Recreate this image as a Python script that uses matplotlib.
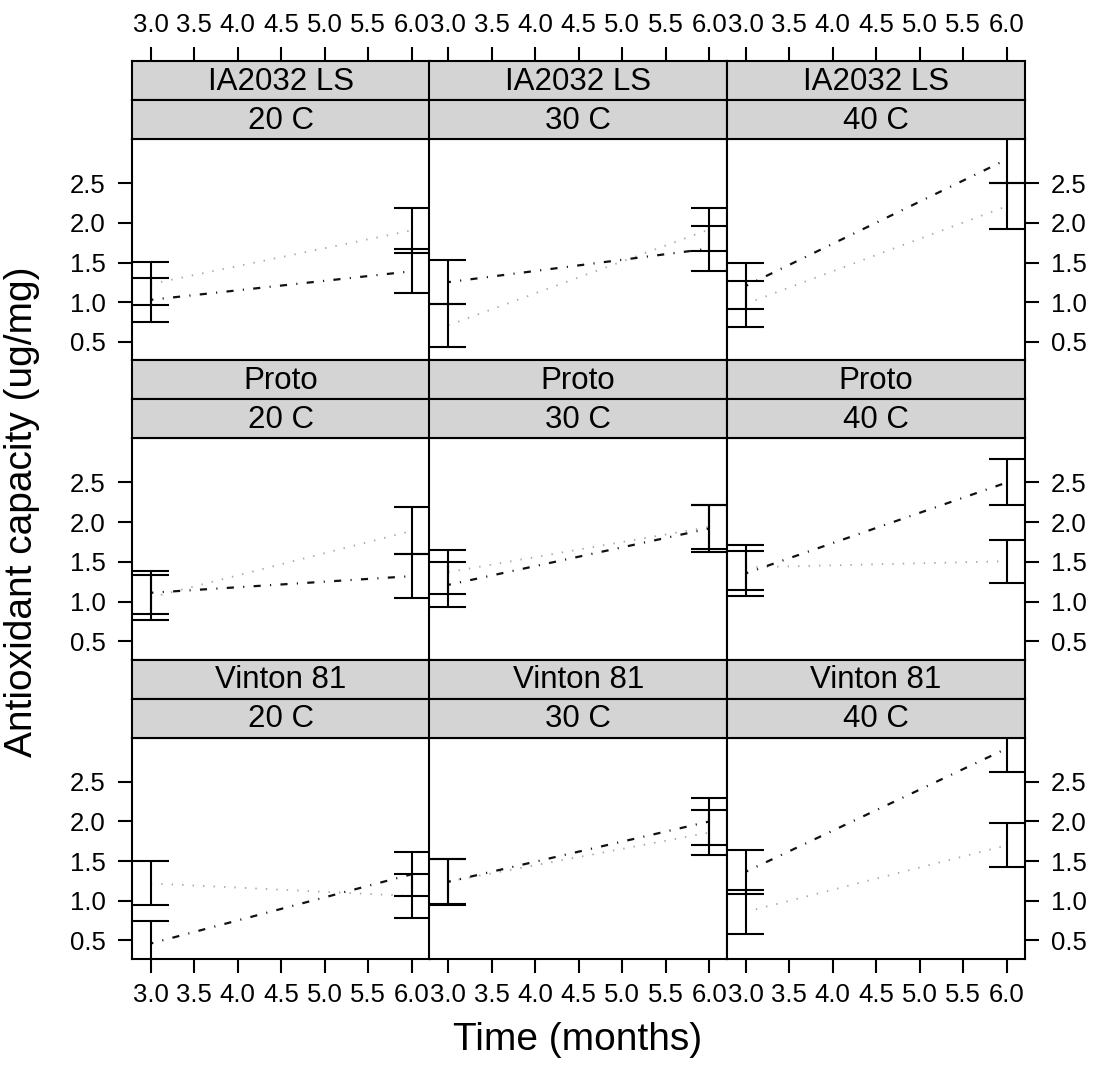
import numpy as np
import matplotlib
matplotlib.use("Agg")
import matplotlib.pyplot as plt

plt.rcParams['font.family'] = ['Liberation Sans', 'DejaVu Sans']

genotypes = ["IA2032 LS", "Proto", "Vinton 81"]
temps = ["20 C", "30 C", "40 C"]
months = [3.0, 6.0]
xticks = [3.0, 3.5, 4.0, 4.5, 5.0, 5.5, 6.0]
yticks = [0.5, 1.0, 1.5, 2.0, 2.5]

# series 1 (dashed), [genotype][temp][month]
s1_mean = [[[1.03, 1.39], [1.253, 1.676], [1.205, 2.80]],
           [[1.11, 1.32], [1.21, 1.92], [1.355, 2.50]],
           [[0.462, 1.335], [1.24, 2.00], [1.366, 2.92]]]
s1_lo = [[[0.755, 1.116], [0.98, 1.388], [0.915, 2.50]],
         [[0.837, 1.047], [0.925, 1.626], [1.067, 2.212]],
         [[0.177, 1.061], [0.952, 1.703], [1.091, 2.626]]]
s1_hi = [[[1.305, 1.673], [1.526, 1.963], [1.494, 3.10]],
         [[1.382, 1.60], [1.50, 2.212], [1.642, 2.795]],
         [[0.747, 1.614], [1.531, 2.29], [1.64, 3.21]]]

# series 2 (dotted)
s2_mean = [[[1.23, 1.906], [0.709, 1.917], [0.98, 2.21]],
           [[1.05, 1.89], [1.37, 1.94], [1.43, 1.508]],
           [[1.22, 1.06], [1.243, 1.86], [0.86, 1.70]]]
s2_lo = [[[0.96, 1.619], [0.437, 1.64], [0.692, 1.925]],
         [[0.765, 1.60], [1.101, 1.663], [1.143, 1.236]],
         [[0.948, 0.78], [0.958, 1.582], [0.588, 1.426]]]
s2_hi = [[[1.506, 2.193], [0.98, 2.193], [1.271, 2.50]],
         [[1.331, 2.187], [1.646, 2.215], [1.717, 1.78]],
         [[1.501, 1.334], [1.528, 2.143], [1.133, 1.975]]]

W, H = 1096, 1066
fig = plt.figure(figsize=(W / 100, H / 100), dpi=100)

XLIM = (2.785, 6.203)
YLIM = (0.268, 3.057)
CAP = 0.21
LW = 1.5
STRIP_BG = '#d4d4d4'
TICK_FS = 18.5

col_left = [132, 429.5, 727]
col_w = 297.5
row_top = [61, 360.3, 659.6]
strip_h = 39
panel_h = 221.3


def box(x, y, w, h):
    # pixel box (top-left origin) -> figure fraction
    return [x / W, 1 - (y + h) / H, w / W, h / H]


def errbars(ax, lo, hi, color):
    ax.vlines(months, lo, hi, color=color, lw=LW)
    for x, a, b in zip(months, lo, hi):
        ax.hlines([a, b], x - CAP, x + CAP, color=color, lw=LW)


for r in range(3):
    for c in range(3):
        x0 = col_left[c]
        t = row_top[r]
        ax = fig.add_axes(box(x0, t + 2 * strip_h, col_w, panel_h))
        ax.set_xlim(*XLIM)
        ax.set_ylim(*YLIM)
        for sp in ax.spines.values():
            sp.set_linewidth(LW)

        ax.plot(months, s2_mean[r][c], color='#a8a8a8', lw=1.3,
                linestyle=(0, (0.8, 5)))
        ax.plot(months, s1_mean[r][c], color='#111111', lw=1.6,
                linestyle=(2, (3.2, 4.2, 0.5, 4.2)))
        errbars(ax, s1_lo[r][c], s1_hi[r][c], 'black')
        errbars(ax, s2_lo[r][c], s2_hi[r][c], 'black')

        ax.set_xticks(xticks)
        ax.set_yticks(yticks)
        ax.tick_params(direction='out', length=10, width=LW,
                       labelsize=TICK_FS, top=False, bottom=(r == 2),
                       left=(c == 0), right=(c == 2), labeltop=False,
                       labelbottom=(r == 2), labelleft=(c == 0),
                       labelright=(c == 2))
        ax.tick_params(axis='x', pad=7)
        ax.tick_params(axis='y', pad=9)
        ax.set_xticklabels([f"{v:.1f}" for v in xticks])
        ax.set_yticklabels([f"{v:.1f}" for v in yticks])

        # strips: genotype on top, temperature below
        for k, label in enumerate([genotypes[r], temps[c]]):
            sax = fig.add_axes(box(x0, t + k * strip_h, col_w, strip_h))
            sax.set_facecolor(STRIP_BG)
            sax.set_xlim(*XLIM)
            sax.set_yticks([])
            for sp in sax.spines.values():
                sp.set_linewidth(LW)
            sax.text(0.5, 0.47, label, transform=sax.transAxes,
                     ha='center', va='center', fontsize=22.5)
            if r == 0 and k == 0:
                sax.set_xticks(xticks)
                sax.set_xticklabels([f"{v:.1f}" for v in xticks])
                sax.tick_params(axis='x', direction='out', length=10,
                                width=LW, labelsize=TICK_FS, pad=7,
                                top=True, bottom=False, labeltop=True,
                                labelbottom=False)
            else:
                sax.set_xticks([])

fig.text(22 / W, 1 - 512 / H, "Antioxidant capacity (ug/mg)", rotation=90,
         ha='center', va='center', fontsize=28)
fig.text(578 / W, 1 - 1040 / H, "Time (months)", ha='center', va='center',
         fontsize=28)

fig.savefig("out.png", dpi=100)
